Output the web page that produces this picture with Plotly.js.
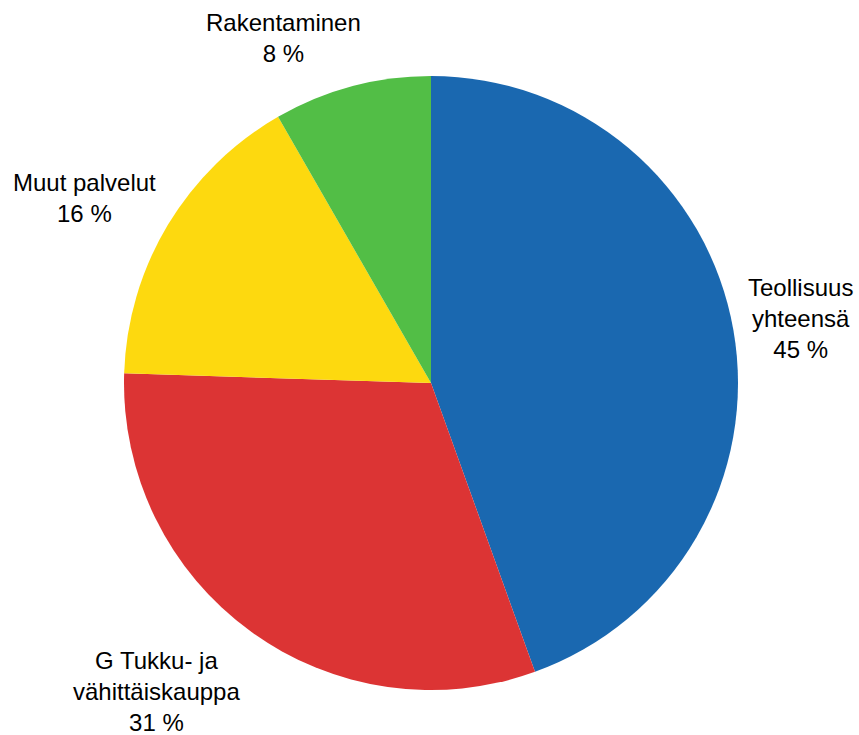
<!DOCTYPE html>
<html>
<head>
<meta charset="utf-8">
<script src="https://cdn.plot.ly/plotly-3.0.1.min.js"></script>
<style>html,body{margin:0;padding:0;background:#fff;}#chart{width:859px;height:735px;}</style>
</head>
<body>
<div id="chart"></div>
<script>
const categories = ["Teollisuus<br>yhteensä", "G Tukku- ja<br>vähittäiskauppa", "Muut palvelut", "Rakentaminen"];
const values = [44.5, 31.0, 16.2, 8.3];
const percentLabels = ["45 %", "31 %", "16 %", "8 %"];
const colors = ["#1A68B0", "#DC3434", "#FDD90F", "#52BE46"];
// label centre positions in pixels (layout only)
const labelPos = [[800, 319], [156, 691], [84, 198], [283, 38]];

const W = 859, H = 735;
const cx = 431, cy = 383, r = 307;

const trace = {
  type: "pie",
  labels: categories,
  values: values,
  sort: false,
  direction: "clockwise",
  rotation: 0,
  textinfo: "none",
  hoverinfo: "label+percent",
  marker: {colors: colors, line: {width: 0}},
  domain: {x: [(cx - r) / W, (cx + r) / W], y: [(H - cy - r) / H, (H - cy + r) / H]},
  showlegend: false
};

const annotations = categories.map((c, i) => ({
  xref: "paper", yref: "paper",
  x: labelPos[i][0] / W, y: 1 - labelPos[i][1] / H,
  xanchor: "center", yanchor: "middle",
  text: c + "<br>" + percentLabels[i],
  showarrow: false,
  align: "center",
  font: {family: "Liberation Sans, Arial, sans-serif", size: 24, color: "#000"}
}));

Plotly.newPlot("chart", [trace], {
  width: W, height: H,
  margin: {l: 0, r: 0, t: 0, b: 0},
  paper_bgcolor: "#fff",
  annotations: annotations
}, {displayModeBar: false, staticPlot: true});
</script>
</body>
</html>
